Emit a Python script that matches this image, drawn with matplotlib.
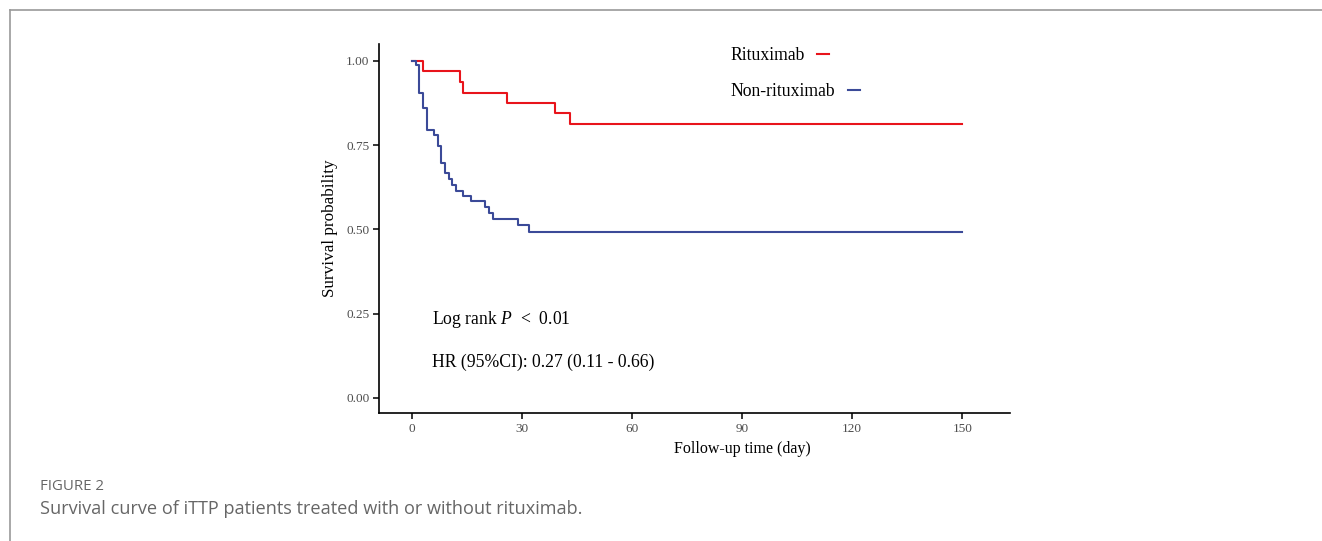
import numpy as np
import matplotlib
matplotlib.use("Agg")
import matplotlib.pyplot as plt
from matplotlib.lines import Line2D

# Kaplan-Meier step data
rit_time = [0, 3, 13, 14, 26, 39, 43, 150]
rit_surv = [1.0, 0.969, 0.938, 0.906, 0.875, 0.844, 0.813, 0.813]

non_time = [0, 1, 2, 3, 4, 6, 7, 8, 9, 10, 11, 12, 14, 16, 20, 21, 22, 29, 32, 150]
non_surv = [1.0, 0.988, 0.906, 0.860, 0.796, 0.780, 0.748, 0.698, 0.667, 0.649,
            0.633, 0.615, 0.599, 0.583, 0.566, 0.548, 0.531, 0.514, 0.493, 0.493]

group_names = ["Rituximab", "Non-rituximab"]
group_colors = ["#E8141B", "#3B4A98"]

x_ticks = [0, 30, 60, 90, 120, 150]
y_ticks = [0.00, 0.25, 0.50, 0.75, 1.00]

plt.rcParams["font.family"] = ["Liberation Serif", "DejaVu Serif"]
plt.rcParams["mathtext.fontset"] = "custom"
plt.rcParams["mathtext.rm"] = "Liberation Serif"
plt.rcParams["mathtext.it"] = "Liberation Serif:italic"

W, H = 1322, 541
fig = plt.figure(figsize=(W / 100, H / 100), dpi=100)

# outer page frame (top + left grey rules)
fig.add_artist(Line2D([9.5 / W, 1], [1 - 9.5 / H, 1 - 9.5 / H], color="#9a9a9a", lw=1.2))
fig.add_artist(Line2D([9.5 / W, 9.5 / W], [0, 1 - 9.5 / H], color="#9a9a9a", lw=1.2))

ax = fig.add_axes([379 / W, 1 - 413 / H, (1010 - 379) / W, (413 - 44) / H])

ax.step(rit_time, rit_surv, where="post", color=group_colors[0], lw=1.5)
ax.step(non_time, non_surv, where="post", color=group_colors[1], lw=1.5)

ax.set_xlim(-9, 163)
ax.set_ylim(-0.045, 1.05)
ax.set_xticks(x_ticks)
ax.set_xticklabels([str(t) for t in x_ticks])
ax.set_yticks(y_ticks)
ax.set_yticklabels(["%.2f" % t for t in y_ticks])

for side in ["top", "right"]:
    ax.spines[side].set_visible(False)
for side in ["left", "bottom"]:
    ax.spines[side].set_linewidth(1.2)
ax.tick_params(length=4, width=1.1, labelsize=9.5, labelcolor="#4d4d4d", pad=3)

ax.set_xlabel("Follow-up time (day)", fontsize=11.5, labelpad=4)
ax.xaxis.set_label_coords((742 - 379) / (1010 - 379), -0.075)
ax.set_ylabel("Survival probability", fontsize=12.3, labelpad=6)

# annotations
ax.text(5.4, 0.232, r"Log rank $P$  <  0.01", fontsize=12.7, va="center", ha="left")
ax.text(5.4, 0.106, "HR (95%CI): 0.27 (0.11 - 0.66)", fontsize=12.7, va="center", ha="left")

# legend: label then short line key, in axes fraction
fig.canvas.draw()
renderer = fig.canvas.get_renderer()
leg_y = [(413 - 55) / (413 - 44), (413 - 91) / (413 - 44)]
leg_x = (730 - 379) / (1010 - 379)
for name, col, yy in zip(group_names, group_colors, leg_y):
    t = ax.text(leg_x, yy, name, transform=ax.transAxes, fontsize=12.7,
                va="center", ha="left")
    bb = t.get_window_extent(renderer)
    x0 = bb.x1 + 13
    line_y = ax.transAxes.transform((0, yy))[1] + 1
    fig.add_artist(Line2D([x0 / W, (x0 + 12) / W], [line_y / H, line_y / H],
                          color=col, lw=1.5))

# caption
fig.text(40 / W, 1 - 486 / H, "FIGURE 2", fontsize=10.8, color="#666666",
         family=["Open Sans", "DejaVu Sans"], va="center", ha="left")
fig.text(40 / W, 1 - 509 / H, "Survival curve of iTTP patients treated with or without rituximab.",
         fontsize=13.1, color="#666666", family=["Open Sans", "DejaVu Sans"],
         va="center", ha="left")

fig.savefig("out.png", dpi=100)
